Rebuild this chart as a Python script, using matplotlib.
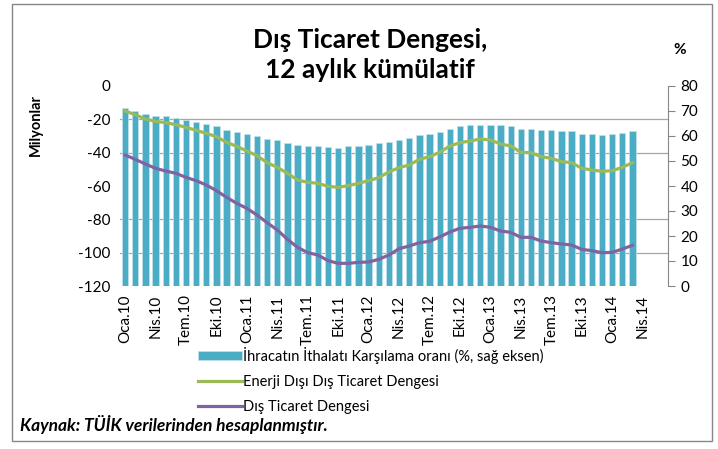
import numpy as np
import matplotlib.pyplot as plt
from matplotlib.patches import Rectangle

plt.rcParams['font.family'] = ['Lato', 'DejaVu Sans']
plt.rcParams['axes.unicode_minus'] = False

# x axis: monthly, Oca.10 .. Haz.14 slots, labels every 3 months
tick_labels = ['Oca.10', 'Nis.10', 'Tem.10', 'Eki.10',
               'Oca.11', 'Nis.11', 'Tem.11', 'Eki.11',
               'Oca.12', 'Nis.12', 'Tem.12', 'Eki.12',
               'Oca.13', 'Nis.13', 'Tem.13', 'Eki.13',
               'Oca.14', 'Nis.14']
n_slots = 54

# ihracatin ithalati karsilama orani (%), Oca.10 - Mar.14
coverage = [71.2, 69.9, 68.9, 68.0, 68.0, 67.3, 66.4, 65.6, 64.8, 63.9, 62.3, 61.6, 60.8,
            60.0, 58.7, 58.4, 57.1, 56.4, 56.0, 56.0, 55.7, 55.3, 55.9, 56.1, 56.4, 57.1, 57.7,
            58.4, 59.3, 60.4, 60.7, 61.6, 62.8, 63.9, 64.3, 64.5, 64.5, 64.3, 63.9,
            62.8, 62.8, 62.3, 62.3, 61.9, 61.9, 60.9, 60.7, 60.4, 60.8, 61.1, 61.9]

# enerji disi dis ticaret dengesi (milyar $)
energy_excl = [-15.0, -17.2, -19.8, -21.2, -22.0, -23.2, -24.8, -26.6, -28.4, -30.4, -33.8, -36.2, -39.0,
               -41.8, -46.0, -48.8, -52.4, -56.4, -57.8, -58.4, -60.2, -60.8, -59.8, -58.4, -56.8, -55.0, -51.5,
               -49.0, -47.4, -44.0, -42.4, -39.8, -36.0, -34.0, -33.0, -31.8, -32.4, -34.8, -36.0,
               -39.8, -40.0, -42.4, -43.4, -45.4, -46.0, -49.4, -50.4, -51.2, -50.8, -48.8, -46.0]

# dis ticaret dengesi (milyar $)
trade_balance = [-41.4, -44.0, -46.8, -49.4, -51.0, -52.4, -54.8, -56.8, -59.4, -62.8, -66.8, -70.4, -73.4,
                 -77.4, -82.0, -86.4, -92.0, -96.8, -100.0, -101.4, -104.8, -106.4, -106.4, -105.8, -105.6, -104.0, -101.4,
                 -97.6, -96.0, -94.0, -93.2, -90.6, -87.6, -85.4, -84.8, -84.0, -84.8, -87.0, -87.8,
                 -90.8, -90.8, -93.0, -94.0, -94.8, -95.4, -98.0, -98.8, -100.0, -99.8, -97.8, -95.6]

W, H = 718, 449
fig = plt.figure(figsize=(W / 100, H / 100), dpi=100)

ax = fig.add_axes([120 / W, 1 - 286 / H, (668 - 120) / W, 200 / H])
ax2 = ax.twinx()
ax.set_zorder(ax2.get_zorder() + 1)
ax.patch.set_visible(False)

x = np.arange(len(coverage))

bars = ax2.bar(x, coverage, width=0.62, color='#4BACC6', edgecolor='#C5E3EC', linewidth=0.5,
               label='İhracatın İthalatı Karşılama oranı (%, sağ eksen)')
ax2.set_ylim(0, 80)
ax2.set_yticks(range(0, 81, 10))
ax2.set_yticks(np.linspace(0, 80, 7), minor=True)
ax2.grid(which='minor', axis='y', color='#A6A6A6', linewidth=0.9)
ax2.grid(which='major', visible=False)
ax2.set_axisbelow(True)
ax2.tick_params(which='minor', length=0)
ax2.tick_params(axis='y', which='major', length=5, width=0.8, color='#868686', labelsize=11, pad=4)

l1, = ax.plot(x, energy_excl, color='#9BBB59', linewidth=2.3, label='Enerji Dışı Dış Ticaret Dengesi')
l2, = ax.plot(x, trade_balance, color='#8064A2', linewidth=2.3, label='Dış Ticaret Dengesi')
ax.set_ylim(-120, 0)
ax.set_yticks(range(-120, 1, 20))
ax.tick_params(axis='y', length=0, labelsize=11, pad=7)
ax.set_xlim(-0.5, n_slots - 0.5)
ax.set_xticks(np.arange(0, n_slots, 3))
ax.set_xticklabels(tick_labels, rotation=90)
ax.tick_params(axis='x', length=0, labelsize=11, pad=6)

for s in ax.spines.values():
    s.set_visible(False)
for name, s in ax2.spines.items():
    s.set_visible(name == 'right')
ax2.spines['right'].set_color('#868686')

ax.set_ylabel('Milyonlar', fontsize=10.5, fontweight='bold')
ax.yaxis.set_label_coords(-0.14, 0.805)
fig.text(680 / W, 1 - 50 / H, '%', fontsize=11, fontweight='bold', ha='center', va='center')

fig.text(370 / W, 1 - 55 / H, 'Dış Ticaret Dengesi,\n12 aylık kümülatif', fontsize=19,
         fontweight='bold', ha='center', va='center', linespacing=1.3)

fig.legend(handles=[bars, l1, l2], loc='upper left', bbox_to_anchor=(192 / W, 1 - 341 / H),
           frameon=False, fontsize=10.5, handlelength=3.0, handleheight=0.6, handletextpad=0.1,
           labelspacing=0.75, borderaxespad=0)

fig.text(20 / W, 1 - 425 / H, 'Kaynak: TÜİK verilerinden hesaplanmıştır.', fontsize=12.5,
         fontweight='bold', style='italic', ha='left', va='center')

fig.add_artist(Rectangle((12 / W, 1 - 441 / H), 700 / W, 437 / H, transform=fig.transFigure,
                         fill=False, edgecolor='#868686', linewidth=1.0))

fig.savefig('out.png', dpi=100)
